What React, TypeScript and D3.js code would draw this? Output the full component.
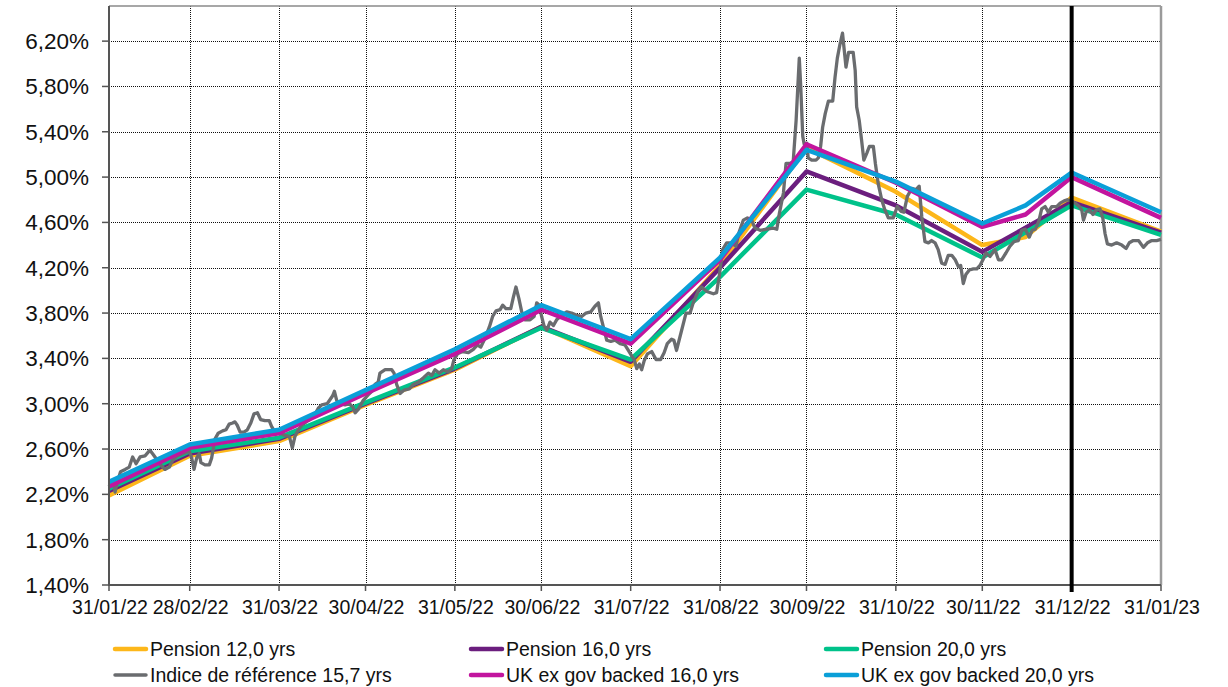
import * as d3 from 'd3';
import React, { useRef, useEffect } from 'react';

// month-end points (plus a mid-December fixing for some curves)
const curveDates = [
    "2022-01-31", "2022-02-28", "2022-03-31", "2022-04-30", "2022-05-31", "2022-06-30", "2022-07-31",
    "2022-08-31", "2022-09-30", "2022-10-31", "2022-11-30", "2022-12-15", "2022-12-31", "2023-01-31",
];

const pension12 = [2.19, 2.54, 2.67, 2.99, 3.30, 3.68, 3.33, 4.22, 5.26, 4.87, 4.40, 4.47, 4.82, 4.52];
const pension16 = [2.23, 2.56, 2.69, 3.00, 3.31, 3.68, 3.37, 4.20, 5.05, 4.75, 4.34, null, 4.78, 4.51];
const pension20 = [2.25, 2.58, 2.70, 3.01, 3.32, 3.67, 3.39, 4.12, 4.89, 4.67, 4.29, null, 4.75, 4.49];
const ukGov16 = [2.27, 2.61, 2.74, 3.09, 3.44, 3.83, 3.53, 4.27, 5.29, 4.95, 4.56, 4.67, 5.00, 4.64];
const ukGov20 = [2.31, 2.64, 2.77, 3.12, 3.48, 3.87, 3.57, 4.29, 5.24, 4.96, 4.59, 4.75, 5.04, 4.69];

// reference index: [days after 31/01/22, yield %]
const referenceIndex: [number, number][] = [
    [0, 2.27], [1.5, 2.33], [2.1, 2.22], [2.9, 2.31], [4.0, 2.40], [5.6, 2.42], [7.0, 2.44], [8.2, 2.53],
    [9.4, 2.47], [10.8, 2.53], [12.5, 2.54], [14.2, 2.59], [15.4, 2.55], [16.5, 2.51], [17.9, 2.46],
    [19.4, 2.42], [20.9, 2.44], [22.1, 2.50], [23.7, 2.54], [25.8, 2.56], [27.9, 2.58], [28.7, 2.52],
    [29.5, 2.42], [30.4, 2.52], [31.3, 2.56], [31.9, 2.48], [33.3, 2.46], [34.8, 2.46], [35.6, 2.52],
    [36.8, 2.69], [37.9, 2.74], [39.4, 2.76], [40.6, 2.77], [41.7, 2.82], [42.9, 2.83], [43.7, 2.84],
    [44.5, 2.81], [45.5, 2.75], [46.8, 2.75], [48.0, 2.77], [49.2, 2.83], [50.3, 2.91], [51.5, 2.92],
    [52.6, 2.86], [54.1, 2.85], [55.6, 2.85], [56.4, 2.80], [57.6, 2.75], [59.3, 2.74], [61.1, 2.72],
    [62.6, 2.71], [63.6, 2.61], [64.5, 2.71], [65.7, 2.77], [66.9, 2.81], [68.4, 2.84], [69.7, 2.86],
    [71.1, 2.89], [72.6, 2.96], [73.8, 2.99], [75.7, 3.00], [77.6, 3.07], [78.2, 3.11], [79.0, 3.03],
    [80.1, 3.00], [81.9, 2.99], [83.4, 3.00], [84.6, 2.97], [85.4, 2.92], [86.5, 2.95], [88.2, 3.03],
    [90.0, 3.08], [91.2, 3.11], [92.3, 3.17], [93.4, 3.19], [94.0, 3.27], [95.8, 3.30], [98.1, 3.30],
    [98.9, 3.27], [99.8, 3.17], [101.0, 3.09], [102.4, 3.12], [104.2, 3.13], [105.6, 3.17], [107.3, 3.19],
    [109.1, 3.23], [110.8, 3.27], [112.0, 3.25], [113.1, 3.30], [114.6, 3.27], [116.0, 3.30], [117.7, 3.28],
    [118.9, 3.31], [119.7, 3.39], [120.9, 3.44], [122.7, 3.46], [124.7, 3.45], [126.4, 3.48], [127.8, 3.52],
    [129.0, 3.50], [130.5, 3.58], [132.0, 3.68], [133.1, 3.77], [134.3, 3.82], [135.7, 3.83], [136.6, 3.87],
    [137.7, 3.84], [139.4, 3.84], [140.3, 3.94], [141.2, 4.03], [142.2, 3.93], [143.2, 3.81], [144.3, 3.74],
    [146.1, 3.74], [147.5, 3.77], [148.4, 3.89], [149.3, 3.87], [150.1, 3.77], [150.9, 3.69], [151.9, 3.65],
    [153.0, 3.72], [154.2, 3.69], [155.3, 3.74], [157.1, 3.78], [158.8, 3.81], [160.5, 3.80], [162.3, 3.78],
    [164.0, 3.77], [165.5, 3.80], [167.1, 3.81], [168.6, 3.86], [169.8, 3.89], [170.6, 3.77], [171.5, 3.68],
    [172.7, 3.56], [174.1, 3.55], [175.6, 3.56], [177.3, 3.53], [179.0, 3.52], [180.2, 3.47], [181.4, 3.42],
    [182.2, 3.39], [183.1, 3.31], [184.0, 3.35], [184.8, 3.30], [185.7, 3.38], [186.8, 3.44], [188.3, 3.46],
    [189.8, 3.39], [191.4, 3.39], [192.6, 3.45], [193.7, 3.53], [195.2, 3.57], [196.0, 3.56], [196.9, 3.47],
    [197.8, 3.56], [200.2, 3.80], [201.6, 3.80], [202.7, 3.89], [204.5, 4.00], [205.6, 4.03], [207.4, 3.99],
    [209.7, 3.97], [210.8, 3.98], [211.7, 4.12], [212.9, 4.36], [214.3, 4.42], [216.0, 4.42], [217.5, 4.39],
    [218.7, 4.52], [220.1, 4.62], [221.5, 4.64], [223.0, 4.62], [224.1, 4.55], [225.9, 4.53], [228.2, 4.54],
    [230.5, 4.55], [231.7, 4.54], [232.6, 4.68], [234.0, 4.86], [234.9, 5.12], [236.3, 5.12], [237.4, 5.14],
    [238.4, 5.50], [239.0, 5.80], [239.5, 6.05], [240.0, 5.80], [240.7, 5.36], [241.2, 5.29], [242.1, 5.30],
    [242.6, 5.17], [243.8, 5.15], [245.3, 5.15], [246.1, 5.17], [246.9, 5.27], [247.6, 5.44], [248.5, 5.56],
    [249.6, 5.67], [251.1, 5.67], [251.9, 5.88], [252.7, 6.05], [253.6, 6.17], [254.5, 6.27], [255.1, 6.12],
    [255.7, 5.97], [256.6, 6.10], [258.2, 6.10], [258.9, 5.94], [259.4, 5.62], [260.3, 5.50], [261.1, 5.33],
    [261.9, 5.15], [262.9, 5.21], [263.8, 5.27], [265.2, 5.27], [265.9, 5.12], [266.9, 4.94], [268.1, 4.80],
    [269.2, 4.71], [270.4, 4.64], [272.1, 4.64], [273.5, 4.74], [274.7, 4.70], [275.8, 4.69], [277.0, 4.83],
    [278.5, 4.90], [280.0, 4.89], [281.1, 4.92], [282.0, 4.65], [283.1, 4.43], [284.3, 4.42], [285.4, 4.44],
    [286.6, 4.42], [287.7, 4.36], [288.9, 4.24], [290.1, 4.23], [291.2, 4.31], [292.4, 4.31], [293.6, 4.27],
    [294.7, 4.21], [295.5, 4.22], [296.4, 4.06], [297.3, 4.14], [298.5, 4.18], [299.9, 4.19], [301.1, 4.19],
    [302.2, 4.22], [303.4, 4.28], [304.3, 4.33], [305.7, 4.30], [307.4, 4.36], [308.6, 4.27], [309.7, 4.27],
    [311.2, 4.33], [312.6, 4.39], [314.0, 4.43], [315.5, 4.44], [316.7, 4.53], [317.9, 4.54], [319.3, 4.47],
    [320.3, 4.53], [321.4, 4.54], [322.6, 4.61], [323.6, 4.72], [324.8, 4.74], [325.9, 4.69], [327.1, 4.74],
    [328.8, 4.74], [330.0, 4.77], [331.4, 4.79], [332.5, 4.80], [333.7, 4.79], [335.2, 4.77], [336.7, 4.74],
    [337.5, 4.71], [338.1, 4.62], [339.0, 4.69], [340.2, 4.71], [341.4, 4.67], [342.5, 4.71], [343.8, 4.72],
    [344.8, 4.64], [345.6, 4.50], [346.4, 4.41], [347.9, 4.40], [349.6, 4.42], [351.4, 4.40], [352.9, 4.37],
    [354.0, 4.42], [355.4, 4.44], [357.2, 4.44], [358.9, 4.38], [360.3, 4.42], [361.8, 4.44], [363.5, 4.44],
    [365.0, 4.45],
];

const tickDates = [
    "2022-01-31", "2022-02-28", "2022-03-31", "2022-04-30", "2022-05-31", "2022-06-30", "2022-07-31",
    "2022-08-31", "2022-09-30", "2022-10-31", "2022-11-30", "2022-12-31", "2023-01-31",
];
const yTicks = [1.4, 1.8, 2.2, 2.6, 3.0, 3.4, 3.8, 4.2, 4.6, 5.0, 5.4, 5.8, 6.2];
const markerDate = "2022-12-31";

const seriesNames = [
    "Pension 12,0 yrs", "Pension 16,0 yrs", "Pension 20,0 yrs",
    "Indice de référence 15,7 yrs", "UK ex gov backed 16,0 yrs", "UK ex gov backed 20,0 yrs",
];
const seriesColors = ["#FDB71A", "#6B1E7E", "#00C28A", "#6A6C6F", "#C2159E", "#0A9FD8"];

const App = () => {
    const svgRef = useRef<SVGSVGElement>(null);

    useEffect(() => {
        document.body.style.margin = "0";

        const width = 1228;
        const height = 687;
        const plot = { left: 109, right: 1161, top: 6, bottom: 585 };
        const font = "'Liberation Sans', Arial, sans-serif";

        const parse = d3.utcParse("%Y-%m-%d");
        const start = parse("2022-01-31") as Date;

        const x = d3.scaleUtc()
            .domain([start, parse("2023-01-31") as Date])
            .range([plot.left, plot.right]);
        const y = d3.scaleLinear().domain([1.4, 6.51]).range([plot.bottom, plot.top]);

        const locale = d3.formatLocale({ decimal: ",", thousands: ".", grouping: [3], currency: ["", "€"] });
        const fmtY = locale.format(".2f");
        const fmtX = d3.utcFormat("%d/%m/%y");

        const svg = d3.select(svgRef.current);
        svg.selectAll("*").remove();
        svg.attr("width", width).attr("height", height);

        svg.append("rect").attr("width", width).attr("height", height).attr("fill", "#fff");

        // grid (dotted)
        const grid = svg.append("g").attr("shape-rendering", "crispEdges");
        grid.selectAll("line.h")
            .data(yTicks.slice(1))
            .join("line")
            .attr("x1", plot.left).attr("x2", plot.right)
            .attr("y1", (d) => Math.round(y(d)) + 0.5).attr("y2", (d) => Math.round(y(d)) + 0.5)
            .attr("stroke", "#111").attr("stroke-width", 1).attr("stroke-dasharray", "1,1");
        grid.selectAll("line.v")
            .data(tickDates.slice(1, -1))
            .join("line")
            .attr("x1", (d) => Math.round(x(parse(d) as Date)) + 0.5)
            .attr("x2", (d) => Math.round(x(parse(d) as Date)) + 0.5)
            .attr("y1", plot.top).attr("y2", plot.bottom)
            .attr("stroke", "#111").attr("stroke-width", 1).attr("stroke-dasharray", "1,1");

        // frame
        svg.append("line").attr("x1", plot.left).attr("x2", plot.right).attr("y1", plot.top).attr("y2", plot.top)
            .attr("stroke", "#8a8a8a").attr("stroke-width", 1.5);
        svg.append("line").attr("x1", plot.right).attr("x2", plot.right).attr("y1", plot.top).attr("y2", plot.bottom)
            .attr("stroke", "#9a9a9a").attr("stroke-width", 2.5);

        // lines
        const line = d3.line<[Date, number]>()
            .x((d) => x(d[0]))
            .y((d) => y(d[1]))
            .curve(d3.curveLinear);

        const curvePoints = (values: (number | null)[]) =>
            curveDates
                .map((d, i) => [parse(d) as Date, values[i]] as [Date, number | null])
                .filter((p) => p[1] !== null) as [Date, number][];

        const refPoints = referenceIndex.map(
            (p) => [new Date(start.getTime() + p[0] * 864e5), p[1]] as [Date, number],
        );

        const allSeries = [
            curvePoints(pension12), curvePoints(pension16), curvePoints(pension20),
            refPoints, curvePoints(ukGov16), curvePoints(ukGov20),
        ];

        const gLines = svg.append("g").attr("fill", "none");
        allSeries.forEach((pts, i) => {
            gLines.append("path")
                .attr("d", line(pts))
                .attr("stroke", seriesColors[i])
                .attr("stroke-width", i === 3 ? 3.3 : 4.5)
                .attr("stroke-linejoin", "round");
        });

        // axes
        const axes = svg.append("g");
        axes.append("line").attr("x1", plot.left).attr("x2", plot.left).attr("y1", plot.top).attr("y2", plot.bottom)
            .attr("stroke", "#555").attr("stroke-width", 2);
        axes.append("line").attr("x1", plot.left - 1).attr("x2", plot.right).attr("y1", plot.bottom).attr("y2", plot.bottom)
            .attr("stroke", "#555").attr("stroke-width", 2);

        axes.selectAll("line.yt")
            .data(yTicks)
            .join("line")
            .attr("x1", plot.left - 7).attr("x2", plot.left)
            .attr("y1", (d) => y(d)).attr("y2", (d) => y(d))
            .attr("stroke", "#555").attr("stroke-width", 1.5);
        axes.selectAll("text.yl")
            .data(yTicks)
            .join("text")
            .attr("x", 89)
            .attr("y", (d) => y(d) + 8)
            .attr("text-anchor", "end")
            .attr("font-family", font)
            .attr("font-size", 22.5)
            .attr("fill", "#111")
            .text((d) => `${fmtY(d)}%`);

        axes.selectAll("line.xt")
            .data(tickDates)
            .join("line")
            .attr("x1", (d) => x(parse(d) as Date)).attr("x2", (d) => x(parse(d) as Date))
            .attr("y1", plot.bottom).attr("y2", plot.bottom + 6)
            .attr("stroke", "#555").attr("stroke-width", 1.5);
        axes.selectAll("text.xl")
            .data(tickDates)
            .join("text")
            .attr("x", (d) => x(parse(d) as Date) + 1)
            .attr("y", 614)
            .attr("text-anchor", "middle")
            .attr("font-family", font)
            .attr("font-size", 19.5)
            .attr("fill", "#111")
            .text((d) => fmtX(parse(d) as Date));

        // year-end marker
        const mx = x(parse(markerDate) as Date);
        svg.append("line").attr("x1", mx).attr("x2", mx).attr("y1", plot.top).attr("y2", plot.bottom + 7)
            .attr("stroke", "#000").attr("stroke-width", 4);

        // legend
        const legendX = [113, 469, 824];
        const legendY = [649, 675];
        const legend = svg.append("g");
        seriesNames.forEach((name, i) => {
            const lx = legendX[i % 3];
            const ly = legendY[Math.floor(i / 3)];
            legend.append("line")
                .attr("x1", lx + 2).attr("x2", lx + 33)
                .attr("y1", ly).attr("y2", ly)
                .attr("stroke", seriesColors[i])
                .attr("stroke-width", i === 3 ? 3.5 : 4.5)
                .attr("stroke-linecap", "round");
            legend.append("text")
                .attr("x", lx + 37)
                .attr("y", ly + 7)
                .attr("font-family", font)
                .attr("font-size", 19.5)
                .attr("fill", "#111")
                .text(name);
        });
    }, []);

    return <svg ref={svgRef} style={{ display: "block" }} />;
};

export default App;
